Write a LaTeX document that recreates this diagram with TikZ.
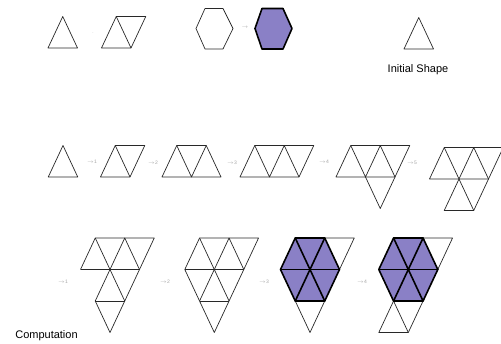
\documentclass[tikz,border=0pt]{standalone}
\usepackage{fontspec}
\setmainfont{Liberation Sans}
\definecolor{hexfill}{RGB}{138,128,198}
\definecolor{edge}{RGB}{40,40,40}
\tikzset{
  thin edge/.style={draw=edge, line width=0.7pt, line join=round},
  thick edge/.style={draw=black, line width=1.6pt, line join=round, line cap=round},
  steplabel/.style={text=black!35, font=\fontsize{5}{6}\selectfont, inner sep=0pt},
  caption/.style={font=\fontsize{11}{13}\selectfont, inner sep=0pt},
  lat/.style={x=14.75pt, y=-31.5pt}
}
\begin{document}
\begin{tikzpicture}[x=1pt, y=-1pt]
\useasboundingbox (0,0) rectangle (501,343);
\fill[white] (0,0) rectangle (501,343);

% ---------- top row ----------
\begin{scope}[shift={(48,48)}, lat]
  \draw[thin edge] (0,0) -- (2,0) -- (1,-1) -- cycle;
\end{scope}
\node[steplabel] (t1) at (93,33) {$\cdot$};
\begin{scope}[shift={(101.5,48)}, lat]
  \draw[thin edge] (0,0) -- (2,0) -- (3,-1) -- (1,-1) -- cycle;
  \draw[thin edge] (1,-1) -- (2,0);
\end{scope}
\draw[thin edge] (205,8.5) -- (223,8.5) -- (233,28.5) -- (223,49) -- (205,49) -- (196,28.5) -- cycle;
\node[steplabel] (t2) at (245,28) {$\rightarrow$};
\filldraw[fill=hexfill, thick edge] (262,8.5) -- (283,8.5) -- (292,28.5) -- (283,49) -- (262,49) -- (255,28.5) -- cycle;

\begin{scope}[shift={(404,49)}, lat]
  \draw[thin edge] (0,0) -- (2,0) -- (1,-1) -- cycle;
\end{scope}
\node[caption] (init) at (418,70) {Initial Shape};

% ---------- second row ----------
\begin{scope}[shift={(48.25,177)}, lat]
  \draw[thin edge] (0,0) -- (2,0) -- (1,-1) -- cycle;
\end{scope}
\node[steplabel] (r1) at (92,162) {$\rightarrow$1};
\begin{scope}[shift={(100.5,177)}, lat]
  \draw[thin edge] (0,0) -- (2,0) -- (3,-1) -- (1,-1) -- cycle;
  \draw[thin edge] (1,-1) -- (2,0);
\end{scope}
\node[steplabel] (r2) at (153,163) {$\rightarrow$2};
\begin{scope}[shift={(162,177)}, lat]
  \draw[thin edge] (0,0) -- (4,0) -- (3,-1) -- (1,-1) -- cycle;
  \draw[thin edge] (1,-1) -- (2,0) -- (3,-1);
\end{scope}
\node[steplabel] (r3) at (232,163) {$\rightarrow$3};
\begin{scope}[shift={(240,177)}, lat]
  \draw[thin edge] (0,0) -- (4,0) -- (5,-1) -- (1,-1) -- cycle;
  \draw[thin edge] (1,-1) -- (2,0) -- (3,-1) -- (4,0);
\end{scope}
\node[steplabel] (r4) at (324,162) {$\rightarrow$4};
\begin{scope}[shift={(336,177)}, lat]
  \draw[thin edge] (0,0) -- (4,0) -- (5,-1) -- (1,-1) -- cycle;
  \draw[thin edge] (1,-1) -- (2,0) -- (3,-1) -- (4,0);
  \draw[thin edge] (2,0) -- (3,1) -- (4,0);
\end{scope}
\node[steplabel] (r5) at (412,163) {$\rightarrow$5};
\begin{scope}[shift={(429.5,179)}, lat]
  \draw[thin edge] (0,0) -- (4,0) -- (5,-1) -- (1,-1) -- cycle;
  \draw[thin edge] (1,-1) -- (2,0) -- (3,-1) -- (4,0);
  \draw[thin edge] (2,0) -- (1,1) -- (3,1) -- (4,0);
  \draw[thin edge] (2,0) -- (3,1);
\end{scope}

% ---------- third row ----------
\node[steplabel] (s1) at (63,282) {$\rightarrow$1};
\begin{scope}[shift={(110,269.5)}, lat]
  \draw[thin edge] (-2,0) -- (-1,-1) -- (3,-1) -- (0,2) -- (-1,1) -- (0,0);
  \draw[thin edge] (-2,0) -- (2,0);
  \draw[thin edge] (-1,-1) -- (0,0) -- (1,-1) -- (2,0);
  \draw[thin edge] (0,0) -- (1,1);
  \draw[thin edge] (-1,1) -- (1,1);
\end{scope}
\node[steplabel] (s2) at (165,282) {$\rightarrow$2};
\begin{scope}[shift={(214.3,269.5)}, lat]
  \draw[thin edge] (-2,0) -- (-1,-1) -- (3,-1) -- (0,2) -- (-2,0);
  \draw[thin edge] (-2,0) -- (2,0);
  \draw[thin edge] (-1,-1) -- (1,1);
  \draw[thin edge] (1,-1) -- (-1,1);
  \draw[thin edge] (1,-1) -- (2,0);
  \draw[thin edge] (-1,1) -- (1,1);
\end{scope}
\node[steplabel] (s3) at (264,282) {$\rightarrow$3};
\begin{scope}[shift={(310,269.5)}, lat]
  \fill[hexfill] (-1,-1) -- (1,-1) -- (2,0) -- (1,1) -- (-1,1) -- (-2,0) -- cycle;
  \draw[thin edge] (1,-1) -- (3,-1) -- (2,0);
  \draw[thin edge] (-1,1) -- (0,2) -- (1,1);
  \draw[thick edge] (-1,-1) -- (1,-1) -- (2,0) -- (1,1) -- (-1,1) -- (-2,0) -- cycle;
  \draw[thick edge] (-2,0) -- (2,0);
  \draw[thick edge] (-1,-1) -- (1,1);
  \draw[thick edge] (1,-1) -- (-1,1);
\end{scope}
\node[steplabel] (s4) at (362,282) {$\rightarrow$4};
\begin{scope}[shift={(408.3,269.5)}, lat]
  \fill[hexfill] (-1,-1) -- (1,-1) -- (2,0) -- (1,1) -- (-1,1) -- (-2,0) -- cycle;
  \draw[thin edge] (1,-1) -- (3,-1) -- (2,0);
  \draw[thin edge] (-1,1) -- (-2,2) -- (0,2) -- (1,1);
  \draw[thin edge] (-1,1) -- (0,2);
  \draw[thick edge] (-1,-1) -- (1,-1) -- (2,0) -- (1,1) -- (-1,1) -- (-2,0) -- cycle;
  \draw[thick edge] (-2,0) -- (2,0);
  \draw[thick edge] (-1,-1) -- (1,1);
  \draw[thick edge] (1,-1) -- (-1,1);
\end{scope}

\node[caption] (comp) at (46.5,336) {Computation};
\end{tikzpicture}
\end{document}
